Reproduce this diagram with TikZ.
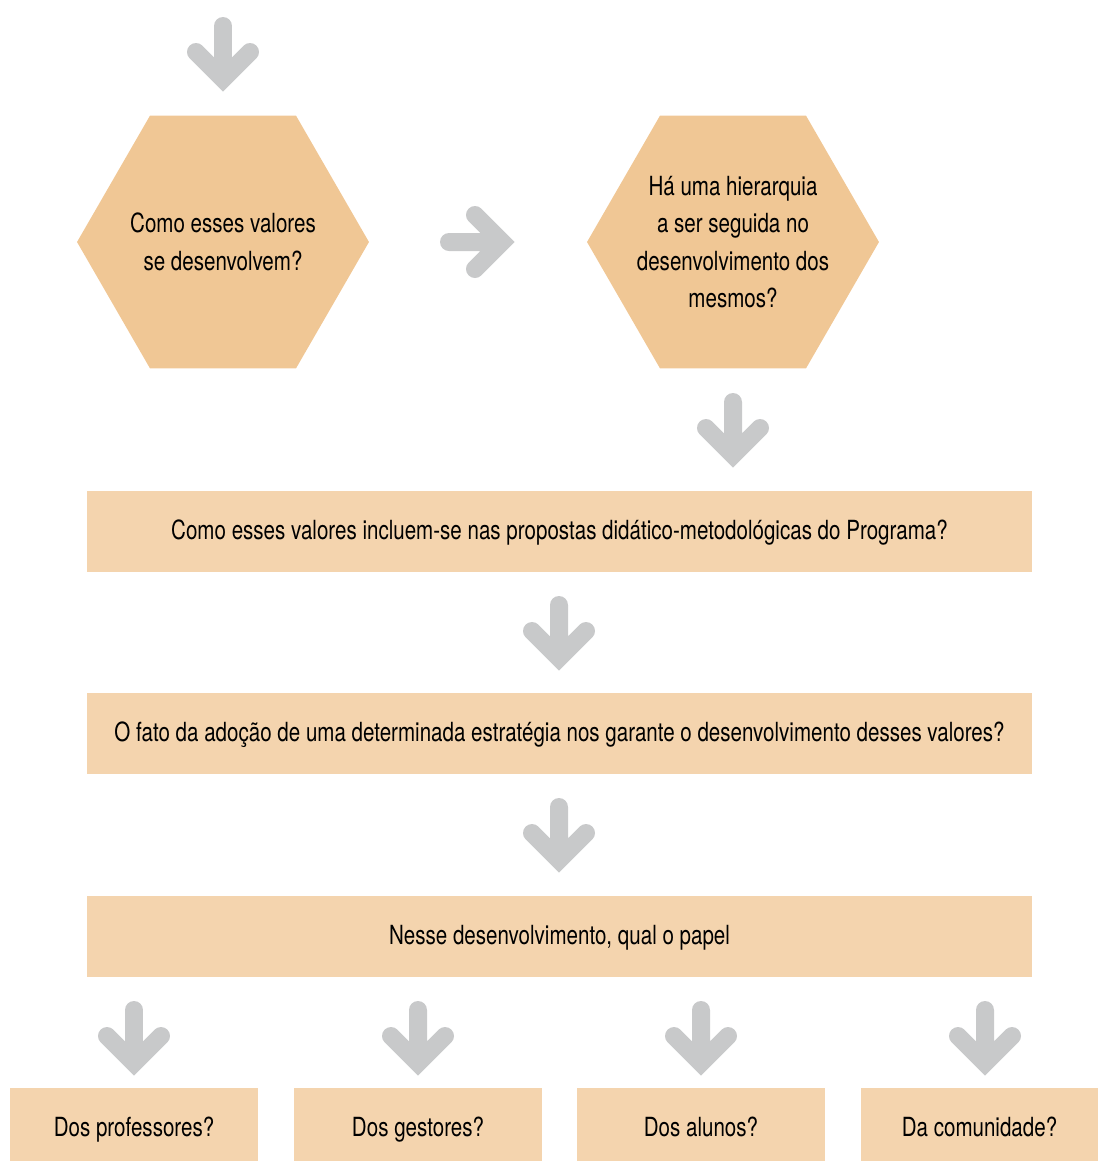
\documentclass[tikz,border=0pt]{standalone}
\usepackage{fontspec}
\setmainfont{TeX Gyre Heros}[FakeStretch=0.78]
\usetikzlibrary{shapes.geometric}
\definecolor{hexc}{HTML}{F0C795}
\definecolor{boxc}{HTML}{F4D4AE}
\definecolor{arrc}{HTML}{C8C9CA}

\begin{document}
\begin{tikzpicture}[x=0.02cm,y=-0.02cm,
  every node/.style={font=\fontsize{15}{21.3}\selectfont},
  hexa/.style={regular polygon,regular polygon sides=6,minimum size=5.84cm,inner sep=-0.4cm,fill=hexc,align=center},
  wide/.style={rectangle,fill=boxc,minimum width=18.9cm,minimum height=1.62cm,text height=0.95em,text depth=0pt},
  small/.style={rectangle,fill=boxc,minimum width=4.96cm,minimum height=1.62cm,text height=0.95em,text depth=0pt},
  darrow/.pic={\draw[arrc,line width=0.36cm,line cap=round,line join=miter] (0,9) -- (0,62) (-27,35) -- (0,62) -- (27,35);}]
\useasboundingbox (0,0) rectangle (1098,1161);

\path (223,242) node[hexa] (h1) {Como esses valores\\se desenvolvem?};
\path (733,242) node[hexa] (h2) {Há uma hierarquia\\a ser seguida no\\desenvolvimento dos\\mesmos?};

\path (559.5,531.5) node[wide] (r1) {Como esses valores incluem-se nas propostas didático-metodológicas do Programa?};
\path (559.5,733.5) node[wide] (r2) {O fato da adoção de uma determinada estratégia nos garante o desenvolvimento desses valores?};
\path (559.5,936.5) node[wide] (r3) {Nesse desenvolvimento, qual o papel};

\path (134,1128.5) node[small] (b1) {Dos professores?};
\path (418,1128.5) node[small] (b2) {Dos gestores?};
\path (701,1128.5) node[small] (b3) {Dos alunos?};
\path (979.5,1128.5) node[small,minimum width=4.74cm] (b4) {Da comunidade?};

\path (223,17) pic {darrow};
\path (440,242) pic[rotate=90] {darrow};
\path (733,393) pic {darrow};
\path (559,596) pic {darrow};
\path (559,798) pic {darrow};
\path (134,1001) pic {darrow};
\path (418,1001) pic {darrow};
\path (701,1001) pic {darrow};
\path (985,1001) pic {darrow};
\end{tikzpicture}
\end{document}
